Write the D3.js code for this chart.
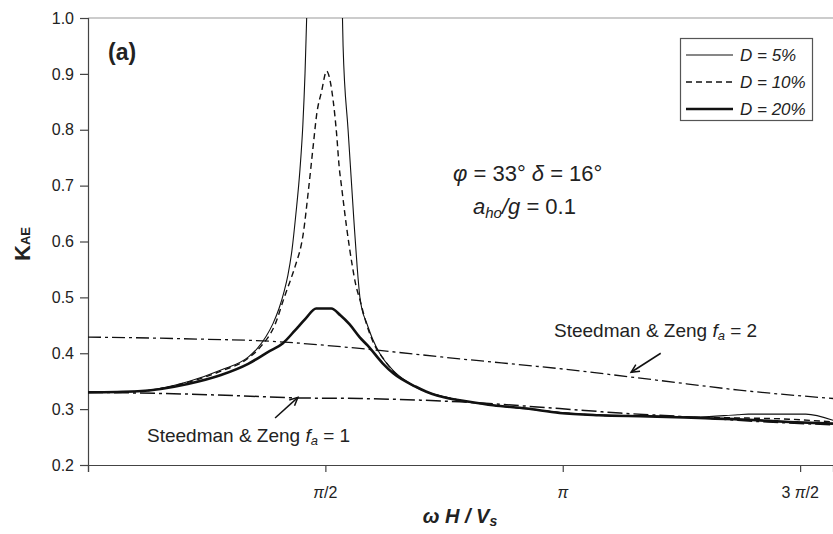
<!DOCTYPE html>
<html>
<head>
<meta charset="utf-8">
<script src="https://cdn.jsdelivr.net/npm/d3@7"></script>
<style>
	body { margin: 0; background: #fff; }
	text { font-family: "Liberation Sans", Arial, sans-serif; fill: #222; }
</style>
</head>
<body>
<div id="chart-area"></div>
<script>
const W = 833
const H = 534
const MARGIN = { LEFT: 88, RIGHT: 0, TOP: 18, BOTTOM: 69 }

// x in radians (omega H / Vs), y = K_AE
const xD5 = [0, 0.33, 0.66, 0.88, 1.06, 1.125, 1.178, 1.224, 1.264, 1.297, 1.323, 1.350, 1.376, 1.403, 1.422, 1.436, 1.447, 1.568, 1.684, 1.688, 1.721, 1.759, 1.781, 1.799, 1.812, 1.843, 1.884, 1.93, 2.02, 2.13, 2.24, 2.39, 2.46, 2.68, 2.90, 3.12, 3.38, 3.71, 4.04, 4.30, 4.37, 4.75, 4.93]
const kD5 = [0.330, 0.332, 0.349, 0.370, 0.393, 0.410, 0.430, 0.453, 0.480, 0.510, 0.540, 0.585, 0.650, 0.730, 0.810, 0.900, 1.000, 2.000, 1.000, 0.950, 0.800, 0.640, 0.555, 0.501, 0.480, 0.455, 0.425, 0.400, 0.369, 0.346, 0.331, 0.320, 0.316, 0.307, 0.301, 0.294, 0.290, 0.288, 0.286, 0.290, 0.291, 0.291, 0.280]

const xD10 = [0, 0.33, 0.66, 0.88, 1.06, 1.14, 1.24, 1.30, 1.34, 1.37, 1.425, 1.458, 1.491, 1.513, 1.546, 1.579, 1.596, 1.622, 1.645, 1.662, 1.678, 1.711, 1.750, 1.77, 1.80, 1.84, 1.89, 1.95, 2.02, 2.13, 2.24, 2.39, 2.46, 2.68, 2.90, 3.12, 3.38, 3.71, 4.04, 4.37, 4.64, 4.93]
const kD10 = [0.330, 0.332, 0.348, 0.368, 0.391, 0.411, 0.453, 0.501, 0.531, 0.555, 0.615, 0.690, 0.773, 0.827, 0.869, 0.905, 0.895, 0.853, 0.793, 0.734, 0.698, 0.626, 0.555, 0.525, 0.495, 0.455, 0.418, 0.392, 0.368, 0.345, 0.331, 0.320, 0.316, 0.307, 0.301, 0.294, 0.289, 0.287, 0.285, 0.284, 0.282, 0.277]

const xD20 = [0, 0.33, 0.66, 0.88, 1.06, 1.19, 1.29, 1.37, 1.44, 1.51, 1.61, 1.67, 1.73, 1.80, 1.85, 1.95, 2.02, 2.17, 2.24, 2.39, 2.46, 2.68, 2.90, 3.12, 3.38, 3.71, 4.04, 4.37, 4.64, 4.93]
const kD20 = [0.330, 0.332, 0.345, 0.361, 0.381, 0.402, 0.418, 0.441, 0.462, 0.480, 0.480, 0.468, 0.452, 0.428, 0.414, 0.382, 0.364, 0.340, 0.331, 0.319, 0.316, 0.307, 0.301, 0.293, 0.289, 0.287, 0.284, 0.281, 0.277, 0.274]

// Steedman & Zeng pseudo-dynamic curves
const xSZ1 = [0, 0.5, 1.0, 1.39, 1.80, 2.46, 3.12, 3.52, 4.04, 4.30, 4.93]
const kSZ1 = [0.330, 0.328, 0.324, 0.320, 0.319, 0.313, 0.301, 0.293, 0.285, 0.280, 0.272]
const xSZ2 = [0, 0.63, 1.30, 1.40, 1.78, 1.93, 2.46, 3.10, 3.76, 4.31, 4.93]
const kSZ2 = [0.429, 0.426, 0.420, 0.418, 0.409, 0.405, 0.390, 0.373, 0.352, 0.334, 0.319]

const yTicks = [0.2, 0.3, 0.4, 0.5, 0.6, 0.7, 0.8, 0.9, 1.0]
const xTicks = [0, Math.PI / 2, Math.PI, 3 * Math.PI / 2]
const xTickLabels = ["", "π/2", "π", "3 π/2"]
const legendLabels = ["D = 5%", "D = 10%", "D = 20%"]

const toPts = (xs, ks) => xs.map((x, i) => [x, ks[i]])

const svg = d3.select("#chart-area").append("svg")
	.attr("width", W)
	.attr("height", H)

const x = d3.scaleLinear().domain([0, 4.93]).range([MARGIN.LEFT, W - MARGIN.RIGHT])
const y = d3.scaleLinear().domain([0.2, 1.0]).range([H - MARGIN.BOTTOM, MARGIN.TOP])

svg.append("clipPath").attr("id", "plot")
	.append("rect")
	.attr("x", MARGIN.LEFT).attr("y", MARGIN.TOP)
	.attr("width", W - MARGIN.LEFT).attr("height", H - MARGIN.BOTTOM - MARGIN.TOP)

// frame top
svg.append("line")
	.attr("x1", MARGIN.LEFT).attr("x2", W)
	.attr("y1", y(1.0)).attr("y2", y(1.0))
	.attr("stroke", "#999").attr("stroke-width", 1.2)

// axes
const yAxis = svg.append("g")
	.attr("transform", `translate(${MARGIN.LEFT}, 0)`)
	.call(d3.axisLeft(y).tickValues(yTicks).tickFormat(d3.format(".1f")).tickSize(8).tickPadding(6))
yAxis.selectAll("text").attr("font-size", "16px").attr("font-family", "Liberation Sans, Arial, sans-serif").attr("fill", "#222")

const xAxis = svg.append("g")
	.attr("transform", `translate(0, ${y(0.2)})`)
	.call(d3.axisBottom(x).tickValues(xTicks).tickFormat("").tickSize(7))
svg.selectAll(".domain, .tick line").attr("stroke", "#444").attr("stroke-width", 1.2)

// x tick labels with italic pi
xTicks.forEach((t, i) => {
	const lbl = xTickLabels[i]
	if (!lbl) return
	const txt = svg.append("text")
		.attr("x", x(t)).attr("y", 498)
		.attr("text-anchor", "middle")
		.attr("font-size", "16px")
	const parts = lbl.split("π")
	if (parts[0]) txt.append("tspan").text(parts[0])
	txt.append("tspan").attr("font-style", "italic").text("π")
	if (parts[1]) txt.append("tspan").text(parts[1])
})

// axis labels
const xLabel = svg.append("text")
	.attr("x", 460).attr("y", 523)
	.attr("text-anchor", "middle")
	.attr("font-size", "20px").attr("font-weight", "bold").attr("font-style", "italic")
xLabel.append("tspan").text("ω H / V")
xLabel.append("tspan").attr("font-size", "14px").attr("dy", 3).text("s")

const yLabel = svg.append("text")
	.attr("transform", "translate(30, 244) rotate(-90)")
	.attr("text-anchor", "middle")
	.attr("font-weight", "bold")
yLabel.append("tspan").attr("font-size", "22px").text("K")
yLabel.append("tspan").attr("font-size", "13px").text("AE")

// curves
const line = d3.line()
	.x(d => x(d[0]))
	.y(d => y(d[1]))
	.curve(d3.curveMonotoneX)

const plot = svg.append("g").attr("clip-path", "url(#plot)")

const series = [
	{ pts: toPts(xSZ2, kSZ2), w: 1.3, dash: "13,4,3,4" },
	{ pts: toPts(xSZ1, kSZ1), w: 1.5, dash: "15,4,3,4" },
	{ pts: toPts(xD5, kD5), w: 1.1, dash: null },
	{ pts: toPts(xD10, kD10), w: 1.4, dash: "6,4" },
	{ pts: toPts(xD20, kD20), w: 2.6, dash: null }
]

series.forEach(s => {
	plot.append("path")
		.attr("d", line(s.pts))
		.attr("fill", "none")
		.attr("stroke", "#111")
		.attr("stroke-width", s.w)
		.attr("stroke-dasharray", s.dash)
})

// legend
const legend = svg.append("g")
legend.append("rect")
	.attr("x", 680.5).attr("y", 38.5).attr("width", 132).attr("height", 82)
	.attr("fill", "#fff").attr("stroke", "#555").attr("stroke-width", 1.2)
legendLabels.forEach((lbl, i) => {
	const ly = 55 + i * 27
	const s = series[i + 2]
	legend.append("line")
		.attr("x1", 686).attr("x2", 733).attr("y1", ly).attr("y2", ly)
		.attr("stroke", "#111").attr("stroke-width", s.w)
		.attr("stroke-dasharray", s.dash)
	legend.append("text")
		.attr("x", 740).attr("y", ly + 6)
		.attr("font-size", "17px").attr("font-style", "italic")
		.text(lbl)
})

// panel tag and parameters
svg.append("text")
	.attr("x", 108).attr("y", 60)
	.attr("font-size", "23px").attr("font-weight", "bold")
	.text("(a)")

const p1 = svg.append("text").attr("x", 453).attr("y", 181).attr("font-size", "22px")
p1.append("tspan").attr("font-style", "italic").text("φ")
p1.append("tspan").text(" = 33° ")
p1.append("tspan").attr("font-style", "italic").text("δ")
p1.append("tspan").text(" = 16°")

const p2 = svg.append("text").attr("x", 473).attr("y", 214).attr("font-size", "22px")
p2.append("tspan").attr("font-style", "italic").text("a")
p2.append("tspan").attr("font-style", "italic").attr("font-size", "15px").attr("dy", 4).text("ho")
p2.append("tspan").attr("font-style", "italic").attr("dy", -4).text("/g")
p2.append("tspan").text(" = 0.1")

// Steedman & Zeng annotations
const notes = [
	{ tx: 554, ty: 337, fa: "2", from: [3.79, 0.400], to: [3.594, 0.366] },
	{ tx: 147, ty: 442, fa: "1", from: [1.238, 0.284], to: [1.389, 0.321] }
]
notes.forEach(n => {
	const t = svg.append("text").attr("x", n.tx).attr("y", n.ty).attr("font-size", "19px")
	t.append("tspan").text("Steedman & Zeng ")
	t.append("tspan").attr("font-style", "italic").text("f")
	t.append("tspan").attr("font-style", "italic").attr("font-size", "13px").attr("dy", 3).text("a")
	t.append("tspan").attr("dy", -3).text(" = " + n.fa)

	const x1 = x(n.from[0]), y1 = y(n.from[1])
	const x2 = x(n.to[0]), y2 = y(n.to[1])
	const ang = Math.atan2(y2 - y1, x2 - x1)
	const hl = 9
	svg.append("line")
		.attr("x1", x1).attr("y1", y1).attr("x2", x2).attr("y2", y2)
		.attr("stroke", "#111").attr("stroke-width", 1.5)
	svg.append("path")
		.attr("d", `M${x2 - hl * Math.cos(ang - 0.45)},${y2 - hl * Math.sin(ang - 0.45)} L${x2},${y2} L${x2 - hl * Math.cos(ang + 0.45)},${y2 - hl * Math.sin(ang + 0.45)}`)
		.attr("fill", "none").attr("stroke", "#111").attr("stroke-width", 1.5)
})
</script>
</body>
</html>
